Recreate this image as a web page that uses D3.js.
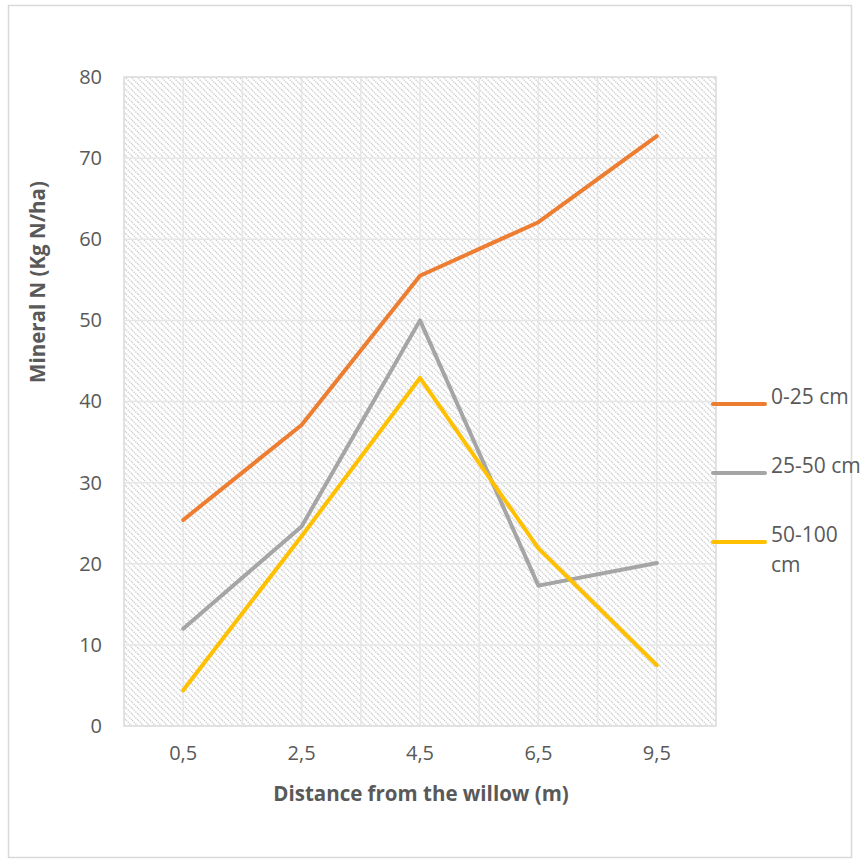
<!DOCTYPE html>
<html>
<head>
<meta charset="utf-8">
<script src="https://cdn.jsdelivr.net/npm/d3@7"></script>
<style>
  html, body { margin: 0; padding: 0; background: #fff; }
  svg text { font-family: "Open Sans", "Noto Sans", sans-serif; fill: #595959; }
</style>
</head>
<body>
<svg id="chart" width="860" height="863"></svg>
<script>
// Distances from the willow (category axis)
const distances = ["0,5", "2,5", "4,5", "6,5", "9,5"];
// Mineral N by soil depth (Kg N/ha)
const depth0to25 = [25.4, 37.1, 55.5, 62.1, 72.7];
const depth25to50 = [12.0, 24.6, 50.0, 17.3, 20.1];
const depth50to100 = [4.4, 23.4, 42.9, 21.9, 7.5];
const seriesNames = ["0-25 cm", "25-50 cm", "50-100 cm"];
const seriesColors = ["#ED7D31", "#A5A5A5", "#FFC000"];
const yTicks = [0, 10, 20, 30, 40, 50, 60, 70, 80];

const series = [depth0to25, depth25to50, depth50to100].map((values, i) => ({
  name: seriesNames[i],
  color: seriesColors[i],
  values
}));

const svg = d3.select("#chart");
const plot = { left: 124, right: 716, top: 77, bottom: 726 };

// Chart frame
svg.append("rect")
  .attr("x", 8.5).attr("y", 5.5)
  .attr("width", 843).attr("height", 852)
  .attr("fill", "#fff").attr("stroke", "#d9d9d9").attr("stroke-width", 1.5);

// Diagonal hatch fill for the plot area
const defs = svg.append("defs");
const pat = defs.append("pattern")
  .attr("id", "hatch")
  .attr("patternUnits", "userSpaceOnUse")
  .attr("width", 6).attr("height", 6);
pat.append("rect").attr("width", 6).attr("height", 6).attr("fill", "#fff");
pat.append("path")
  .attr("d", "M0,0 L6,6 M-3,3 L0,6 M3,-3 L6,0 M-1,5 L1,7 M5,-1 L7,1")
  .attr("stroke", "#cfcfcf").attr("stroke-width", 1.4)
  .attr("stroke-dasharray", "1.4 1");

const x = d3.scaleBand().domain(distances).range([plot.left, plot.right]);
const y = d3.scaleLinear().domain([0, 80]).range([plot.bottom, plot.top]);

svg.append("rect")
  .attr("x", plot.left).attr("y", plot.top)
  .attr("width", plot.right - plot.left).attr("height", plot.bottom - plot.top)
  .attr("fill", "url(#hatch)");

// Horizontal gridlines
svg.append("g")
  .selectAll("line")
  .data(yTicks)
  .join("line")
  .attr("x1", plot.left).attr("x2", plot.right)
  .attr("y1", d => y(d)).attr("y2", d => y(d))
  .attr("stroke", "#e6e6e6").attr("stroke-width", 1.5);

// Vertical gridlines at category edges and centres
const vLines = [];
distances.forEach(d => {
  vLines.push(x(d));
  vLines.push(x(d) + x.bandwidth() / 2);
});
vLines.push(plot.right);
svg.append("g")
  .selectAll("line")
  .data(vLines)
  .join("line")
  .attr("x1", d => d).attr("x2", d => d)
  .attr("y1", plot.top).attr("y2", plot.bottom)
  .attr("stroke", "#e6e6e6").attr("stroke-width", 1.5);

// Plot area outline
svg.append("rect")
  .attr("x", plot.left).attr("y", plot.top)
  .attr("width", plot.right - plot.left).attr("height", plot.bottom - plot.top)
  .attr("fill", "none").attr("stroke", "#dedede").attr("stroke-width", 1.5);

// Y axis
const yAxis = svg.append("g")
  .attr("transform", `translate(${plot.left},0)`)
  .call(d3.axisLeft(y).tickValues(yTicks).tickSize(0).tickPadding(22));
yAxis.select(".domain").remove();
yAxis.selectAll("text").attr("font-size", 20).style("font-family", '"Open Sans", sans-serif').attr("fill", "#595959");

// X axis
const xAxis = svg.append("g")
  .attr("transform", `translate(0,${plot.bottom})`)
  .call(d3.axisBottom(x).tickSize(0).tickPadding(20));
xAxis.select(".domain").remove();
xAxis.selectAll("text").attr("font-size", 20).style("font-family", '"Open Sans", sans-serif').attr("fill", "#595959");

// Series lines
const line = d3.line()
  .x((d, i) => x(distances[i]) + x.bandwidth() / 2)
  .y(d => y(d));

svg.append("g")
  .selectAll("path")
  .data(series)
  .join("path")
  .attr("d", s => line(s.values))
  .attr("fill", "none")
  .attr("stroke", s => s.color)
  .attr("stroke-width", 4)
  .attr("stroke-linecap", "round")
  .attr("stroke-linejoin", "round");

// Axis titles
svg.append("text")
  .attr("transform", "translate(45,282) rotate(-90)")
  .attr("text-anchor", "middle")
  .attr("font-size", 20.5)
  .attr("font-weight", "bold")
  .text("Mineral N (Kg N/ha)");

svg.append("text")
  .attr("x", 421).attr("y", 801)
  .attr("text-anchor", "middle")
  .attr("font-size", 20.5)
  .attr("font-weight", "bold")
  .text("Distance from the willow (m)");

// Legend
const legendY = [404, 473, 542];
const legend = svg.append("g")
  .selectAll("g")
  .data(series)
  .join("g")
  .attr("transform", (d, i) => `translate(0,${legendY[i]})`);
legend.append("line")
  .attr("x1", 713).attr("x2", 765)
  .attr("stroke", d => d.color)
  .attr("stroke-width", 4)
  .attr("stroke-linecap", "round");
legend.append("text")
  .attr("x", 771)
  .attr("dy", "0.35em")
  .attr("font-size", 21)
  .each(function (d) {
    const parts = d.name === "50-100 cm" ? ["50-100", "cm"] : [d.name];
    d3.select(this).selectAll("tspan")
      .data(parts)
      .join("tspan")
      .attr("x", 771)
      .attr("dy", (p, j) => j === 0 ? 0 : 30)
      .text(p => p);
  });
</script>
</body>
</html>
